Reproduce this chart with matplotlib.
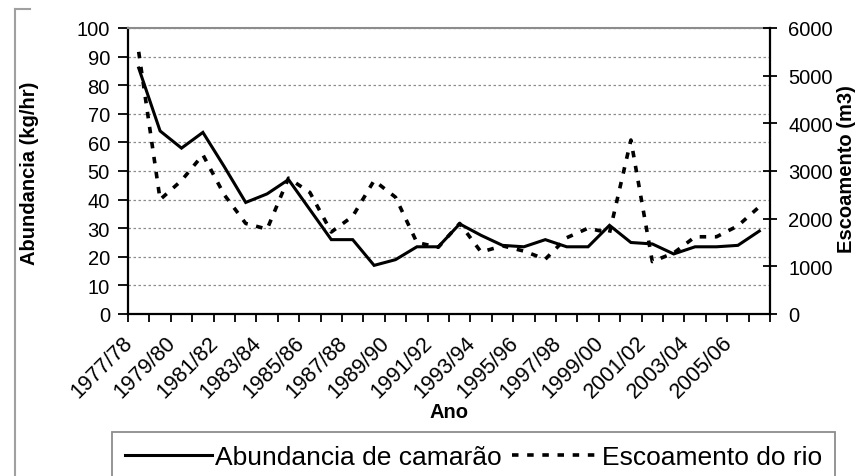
import matplotlib
matplotlib.use("Agg")
import matplotlib.pyplot as plt
from matplotlib.lines import Line2D
from matplotlib.transforms import ScaledTranslation
import numpy as np

plt.rcParams['font.family'] = ['Liberation Sans', 'DejaVu Sans']

# Dados
anos = ["1977/78", "1978/79", "1979/80", "1980/81", "1981/82", "1982/83",
        "1983/84", "1984/85", "1985/86", "1986/87", "1987/88", "1988/89",
        "1989/90", "1990/91", "1991/92", "1992/93", "1993/94", "1994/95",
        "1995/96", "1996/97", "1997/98", "1998/99", "1999/00", "2000/01",
        "2001/02", "2002/03", "2003/04", "2004/05", "2005/06", "2006/07"]

abundancia = [86, 64, 58, 63.5, 51.5, 39, 42, 47, 36.5, 26,
              26, 17, 19, 23.5, 23.5, 31.5, 27.5, 24, 23.5, 26,
              23.5, 23.5, 31, 25, 24.5, 21, 23.5, 23.5, 24, 29]

escoamento = [5500, 2400, 2800, 3340, 2500, 1900, 1780, 2850, 2550, 1720,
              2050, 2800, 2450, 1500, 1400, 1900, 1300, 1430, 1320, 1150,
              1600, 1800, 1700, 3650, 1100, 1280, 1620, 1620, 1850, 2250]

x = np.arange(len(anos))

fig = plt.figure(figsize=(8.59, 4.77), dpi=100)
ax = fig.add_axes([128/859, 1-315/477, 642/859, 286/477])
ax2 = ax.twinx()

# linhas
l1, = ax.plot(x, abundancia, color="black", lw=2.2, solid_joinstyle="miter",
              label="Abundancia de camarão")
l2, = ax2.plot(x, escoamento, color="black", lw=2.6, dashes=(1.8, 2.4),
               label="Escoamento do rio")

# eixos
ax.set_xlim(-0.5, len(anos) - 0.5)
ax.set_ylim(0, 100)
ax2.set_ylim(0, 6000)
ax.set_yticks(range(0, 101, 10))
ax2.set_yticks(range(0, 6001, 1000))

ax.set_xticks(x[::2])
ax.set_xticklabels(anos[::2], rotation=45, ha="right", va="center",
                   rotation_mode="anchor")
ax.set_xticks(np.arange(-0.5, len(anos), 1), minor=True)
ax.tick_params(axis="x", which="major", length=0, pad=18, labelsize=15.5)
ax.tick_params(axis="x", which="minor", length=6, width=1.3, direction="out")
ax.tick_params(axis="y", length=7, width=1.3, direction="out", pad=6, labelsize=14.5)
ax2.tick_params(axis="y", length=10, width=1.3, direction="inout", pad=8, labelsize=14.5)

desloc = ScaledTranslation(-9/100, 0, fig.dpi_scale_trans)
for lab in ax.get_xticklabels():
    lab.set_transform(lab.get_transform() + desloc)

ax.yaxis.grid(True, linestyle=(0, (2, 2)), color="#8c8c8c", lw=0.9)
ax.set_axisbelow(True)

for s in ["left", "bottom"]:
    ax.spines[s].set_linewidth(1.6)
ax.spines["top"].set_color("#8c8c8c")
ax.spines["top"].set_linewidth(1.5)
ax.spines["right"].set_visible(False)
for s in ["left", "top", "bottom"]:
    ax2.spines[s].set_visible(False)
ax2.spines["right"].set_linewidth(1.6)

# rótulos
fig.text(30/859, 1-173/477, "Abundancia (kg/hr)", rotation=90, ha="center",
         va="center", fontsize=14.5, fontweight="bold")
fig.text(847/859, 1-169/477, "Escoamento (m3)", rotation=90, ha="center",
         va="center", fontsize=14.5, fontweight="bold")
fig.text(449/859, 1-413/477, "Ano", ha="center", va="center",
         fontsize=14.5, fontweight="bold")

# legenda
leg = ax2.legend(handles=[l1, l2], loc="upper left", ncol=2,
                 bbox_to_anchor=(112/859, 1-433/477), bbox_transform=fig.transFigure,
                 fontsize=19, frameon=True, fancybox=False, framealpha=1,
                 edgecolor="#8c8c8c", borderaxespad=0, borderpad=0.5,
                 handlelength=3.3, handletextpad=0.1, columnspacing=0.4)
leg.get_frame().set_linewidth(1.3)

# borda da área do gráfico (cortada)
fig.add_artist(Line2D([15/859, 15/859], [0, 1-10/477], color="#a0a0a0", lw=1.5))
fig.add_artist(Line2D([15/859, 30/859], [1-10/477, 1-10/477], color="#a0a0a0", lw=1.5))

fig.savefig("out.png", dpi=100)
